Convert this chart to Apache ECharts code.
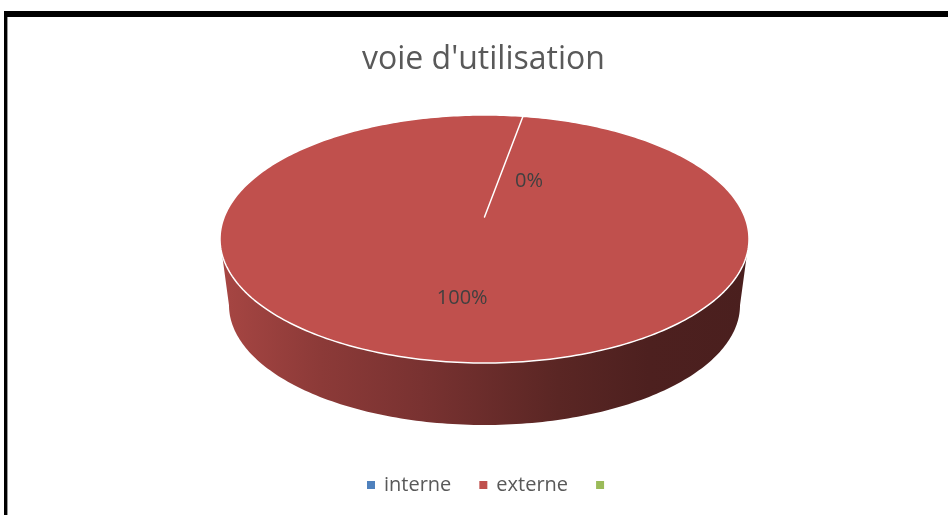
<!DOCTYPE html>
<html><head><meta charset="utf-8">
<script src="https://cdn.jsdelivr.net/npm/echarts@6/dist/echarts.min.js"></script>
<style>html,body{margin:0;padding:0;background:#fff}#c{width:948px;height:515px}</style>
</head><body><div id="c"></div>
<script>
// ---- data ----
const titleText = "voie d'utilisation";
const categories = ['interne', 'externe', ' '];
const values = [0, 100, null];
const colors = ['#4F81BD', '#C0504D', '#9BBB59'];

// ---- layout / style (not data) ----
const P = {cx: 484.5, cy: 239, rx: 264.5, ry: 124, persp: -0.177, botScale: 0.966, botFront: 425, startAngle: 10, labelR: 0.6};
P.botCy = P.botFront - P.ry * P.botScale;
const S = Math.sqrt(1 - P.persp * P.persp);
const labelNudge = {interne: [20, 28], externe: [8, 2]};

function proj(thetaDeg, r, bottom) {
  const t = thetaDeg * Math.PI / 180;
  const u = r * Math.sin(t), v = -r * Math.cos(t);
  const w = 1 + P.persp * v;
  const xn = u * S / w, yn = (v + P.persp) / w;
  if (bottom) return [P.cx + P.rx * P.botScale * xn, P.botCy + P.ry * P.botScale * yn];
  return [P.cx + P.rx * xn, P.cy + P.ry * yn];
}
function shade(hex, f) {
  const n = parseInt(hex.slice(1), 16);
  const r = (n >> 16) & 255, g = (n >> 8) & 255, b = n & 255;
  return 'rgb(' + Math.round(r * f) + ',' + Math.round(g * f) + ',' + Math.round(b * f) + ')';
}
const total = values.reduce((s, v) => s + (v == null ? 0 : v), 0);
function sliceRange(i) {
  let cum = 0;
  for (let k = 0; k < i; k++) cum += values[k] == null ? 0 : values[k];
  const s = P.startAngle + 360 * cum / total;
  const e = s + 360 * values[i] / total;
  return [s, e];
}
const visA = 180 / Math.PI * Math.acos(P.persp);
const visRanges = [[visA, 360 - visA], [visA + 360, 720 - visA]];

function renderItem(params, api) {
  const i = params.seriesIndex;
  const val = api.value(0);
  const color = colors[i];
  const [s, e] = sliceRange(i);
  const children = [];
  visRanges.forEach(function (vr) {
    const lo = Math.max(s, vr[0]), hi = Math.min(e, vr[1]);
    if (hi - lo > 0.01) {
      const pts = [];
      const n = Math.max(2, Math.ceil(hi - lo));
      for (let k = 0; k <= n; k++) pts.push(proj(lo + (hi - lo) * k / n, 1, false));
      for (let k = n; k >= 0; k--) pts.push(proj(lo + (hi - lo) * k / n, 1, true));
      const x0 = P.cx - P.rx, x1 = P.cx + P.rx;
      children.push({
        type: 'polygon', z2: 1, shape: {points: pts},
        style: {fill: new echarts.graphic.LinearGradient(x0, 0, x1, 0, [
          {offset: 0, color: shade(color, 0.87)},
          {offset: 0.19, color: shade(color, 0.73)},
          {offset: 0.38, color: shade(color, 0.63)},
          {offset: 0.64, color: shade(color, 0.47)},
          {offset: 0.81, color: shade(color, 0.40)},
          {offset: 1, color: shade(color, 0.385)}
        ], true)}
      });
    }
  });
  const top = [proj(0, 0, false)];
  const n = Math.max(1, Math.ceil(e - s));
  for (let k = 0; k <= n; k++) top.push(proj(s + (e - s) * k / n, 1, false));
  top.push(proj(0, 0, false));
  children.push({
    type: 'polygon', z2: 10, shape: {points: top},
    style: {fill: color, stroke: '#ffffff', lineWidth: 1.5, lineJoin: 'round'}
  });
  const mid = (s + e) / 2;
  const lp = proj(mid, P.labelR, false);
  const nud = labelNudge[categories[i]] || [0, 0];
  children.push({
    type: 'text', z2: 20, x: lp[0] + nud[0], y: lp[1] + nud[1],
    style: {text: Math.round(val / total * 100) + '%', fill: '#404040',
      fontSize: 20, fontFamily: '"Open Sans"', align: 'center', verticalAlign: 'middle'}
  });
  return {type: 'group', children: children};
}

const chart = echarts.init(document.getElementById('c'), null, {renderer: 'canvas'});
chart.setOption({
  animation: false,
  backgroundColor: '#ffffff',
  color: colors,
  title: {
    text: titleText, left: 357, top: 39,
    textStyle: {fontFamily: '"Open Sans"', fontSize: 32, fontWeight: 'normal', color: '#595959'}
  },
  legend: {
    data: categories, left: 362, top: 470, icon: 'rect', itemWidth: 8, itemHeight: 8, itemGap: 28,
    selectedMode: false,
    textStyle: {fontFamily: '"Open Sans"', fontSize: 20, color: '#595959', padding: [0, 0, 0, 4]}
  },
  graphic: [
    {type: 'rect', shape: {x: 4, y: 11, width: 944, height: 6}, style: {fill: '#000'}, z: 100},
    {type: 'rect', shape: {x: 4, y: 11, width: 3.4, height: 504}, style: {fill: '#000'}, z: 100}
  ],
  series: categories.map(function (c, i) {
    return {
      type: 'custom', name: c, coordinateSystem: 'none',
      renderItem: renderItem,
      data: values[i] == null ? [] : [[values[i]]]
    };
  })
});
</script></body></html>
